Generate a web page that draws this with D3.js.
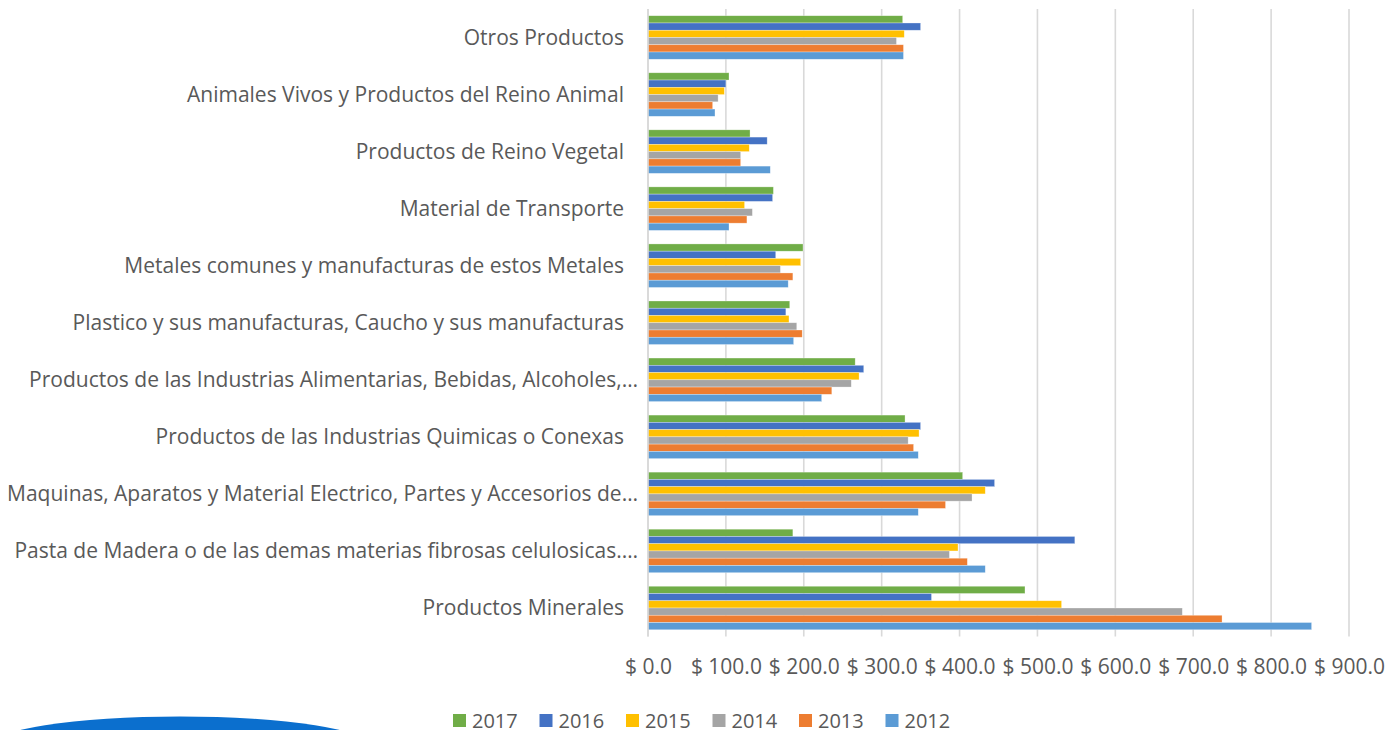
<!DOCTYPE html>
<html>
<head>
<meta charset="utf-8">
<script src="https://cdn.jsdelivr.net/npm/d3@7"></script>
<style>
  html, body { margin: 0; padding: 0; background: #fff; }
  svg { display: block; }
</style>
</head>
<body>
<div id="chart"></div>
<script>
const categories = [
  "Otros Productos",
  "Animales Vivos y Productos del Reino Animal",
  "Productos de Reino Vegetal",
  "Material de Transporte",
  "Metales comunes y manufacturas de estos Metales",
  "Plastico y sus manufacturas, Caucho y sus manufacturas",
  "Productos de las Industrias Alimentarias, Bebidas, Alcoholes,…",
  "Productos de las Industrias Quimicas o Conexas",
  "Maquinas, Aparatos y Material Electrico, Partes y Accesorios de…",
  "Pasta de Madera o de las demas materias fibrosas celulosicas.…",
  "Productos Minerales"
];

const years = ["2017", "2016", "2015", "2014", "2013", "2012"];

const values2017 = [327, 104, 131, 161, 199, 182, 266, 330, 404, 186, 484];
const values2016 = [350, 100, 153, 160, 164, 177, 277, 350, 445, 548, 364];
const values2015 = [329, 98, 130, 124, 196, 181, 271, 348, 433, 398, 531];
const values2014 = [319, 90, 119, 134, 170, 191, 261, 334, 416, 387, 686];
const values2013 = [328, 83, 119, 127, 186, 198, 236, 341, 382, 410, 737];
const values2012 = [328, 86, 157, 104, 180, 187, 223, 347, 347, 433, 852];

const tickValues = [0, 100, 200, 300, 400, 500, 600, 700, 800, 900];

const seriesValues = [values2017, values2016, values2015, values2014, values2013, values2012];
const yearColors = ['#70AD47', '#4472C4', '#FFC000', '#A5A5A5', '#ED7D31', '#5B9BD5'];

const width = 1390;
const height = 730;
const fontFamily = "'Open Sans', 'Noto Sans', sans-serif";
const textColor = '#595959';
const gridColor = '#d9d9d9';
const labelSize = '21px';
const legendSize = '20px';

const svg = d3.select('#chart')
  .append('svg')
  .attr('width', width)
  .attr('height', height);

const xScale = d3.scaleLinear()
  .domain([0, 900])
  .range([648, 1349]);

const yScale = d3.scaleBand()
  .domain(categories)
  .range([9, 636.5])
  .paddingInner(0.237)
  .paddingOuter(0.118);

const innerScale = d3.scaleBand()
  .domain(years)
  .range([0, yScale.bandwidth()]);

// grid lines
svg.append('g')
  .attr('class', 'grid')
  .selectAll('line')
  .data(tickValues)
  .join('line')
  .attr('x1', d => xScale(d))
  .attr('x2', d => xScale(d))
  .attr('y1', 9)
  .attr('y2', 636.5)
  .attr('stroke', gridColor)
  .attr('stroke-width', 1.6);

// x axis labels
const xAxis = d3.axisBottom(xScale)
  .tickValues(tickValues)
  .tickSize(0)
  .tickPadding(0)
  .tickFormat(d => '$ ' + d3.format('.1f')(d));

const xAxisElement = svg.append('g')
  .attr('transform', 'translate(0, 659)')
  .call(xAxis);

xAxisElement.select('.domain').remove();
xAxisElement.selectAll('text')
  .attr('fill', textColor)
  .attr('font-family', fontFamily)
  .attr('font-size', labelSize);

// bars
const groups = svg.append('g')
  .selectAll('g')
  .data(categories)
  .join('g')
  .attr('transform', d => `translate(0, ${yScale(d)})`);

groups.selectAll('rect')
  .data((d, i) => years.map((year, j) => ({year, value: seriesValues[j][i], color: yearColors[j]})))
  .join('rect')
  .attr('x', xScale(0))
  .attr('y', d => innerScale(d.year))
  .attr('width', d => xScale(d.value) - xScale(0))
  .attr('height', innerScale.bandwidth())
  .attr('fill', d => d.color)
  .attr('stroke', '#ffffff')
  .attr('stroke-opacity', 0.5)
  .attr('stroke-width', 0.6);

// y axis line
svg.append('line')
  .attr('x1', xScale(0))
  .attr('x2', xScale(0))
  .attr('y1', 9)
  .attr('y2', 636.5)
  .attr('stroke', gridColor)
  .attr('stroke-width', 1.6);

// category labels (Excel lets truncated labels run a bit further right)
svg.append('g')
  .selectAll('text')
  .data(categories)
  .join('text')
  .attr('x', d => d.endsWith('…') ? 638 : 624)
  .attr('y', d => yScale(d) + yScale.bandwidth() / 2)
  .attr('dy', '0.35em')
  .attr('text-anchor', 'end')
  .attr('fill', textColor)
  .attr('font-family', fontFamily)
  .attr('font-size', labelSize)
  .text(d => d);

// legend
const legend = svg.append('g')
  .attr('transform', 'translate(453, 714)')
  .selectAll('g')
  .data(years)
  .join('g')
  .attr('transform', (d, i) => `translate(${i * 86.5}, 0)`);

legend.append('rect')
  .attr('width', 13)
  .attr('height', 13)
  .attr('fill', (d, i) => yearColors[i]);

legend.append('text')
  .attr('x', 19)
  .attr('y', 6.5)
  .attr('dy', '0.35em')
  .attr('fill', textColor)
  .attr('font-family', fontFamily)
  .attr('font-size', legendSize)
  .text(d => d);

// blue logo swoosh at the bottom left
svg.append('ellipse')
  .attr('cx', 180)
  .attr('cy', 746.5)
  .attr('rx', 191)
  .attr('ry', 30)
  .attr('fill', '#0b6fce');
</script>
</body>
</html>
